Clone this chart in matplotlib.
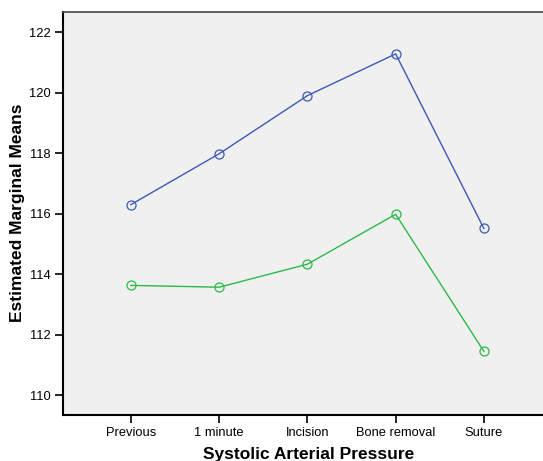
import matplotlib.pyplot as plt

plt.rcParams["font.family"] = ["Liberation Sans", "DejaVu Sans"]

stages = ["Previous", "1 minute", "Incision", "Bone removal", "Suture"]
group_blue = [116.30, 117.98, 119.90, 121.28, 115.51]
group_green = [113.63, 113.57, 114.33, 115.98, 111.45]
yticks = [110, 112, 114, 116, 118, 120, 122]

fig = plt.figure(figsize=(5.43, 4.61), dpi=100)
ax = fig.add_axes([0.116, 0.1, 0.884, 0.875])
ax.set_facecolor("#f0f0f0")

x = list(range(len(stages)))
ax.plot(x, group_blue, "-o", color="#3d59b3", lw=1.0, ms=6.5,
        mfc="none", mew=0.9)
ax.plot(x, group_green, "-o", color="#2dba48", lw=1.0, ms=6.5,
        mfc="none", mew=0.9)

ax.set_xlim(-0.77, 4.67)
ax.set_ylim(109.35, 122.68)
ax.set_xticks(x)
ax.set_xticklabels(stages)
ax.set_yticks(yticks)
ax.tick_params(direction="out", length=6, width=1.2, labelsize=9.3,
               colors="black", pad=3)

for side in ["left", "bottom"]:
    ax.spines[side].set_linewidth(1.5)
ax.spines["top"].set_linewidth(1.2)
ax.spines["top"].set_color("#444444")
ax.spines["right"].set_visible(False)

ax.set_ylabel("Estimated Marginal Means", fontsize=12.5, fontweight="bold")
ax.set_xlabel("Systolic Arterial Pressure", fontsize=12.5, fontweight="bold")
ax.xaxis.set_label_coords(0.512, -0.08)
ax.yaxis.set_label_coords(-0.079, 0.5)

fig.savefig("out.png", dpi=100)
